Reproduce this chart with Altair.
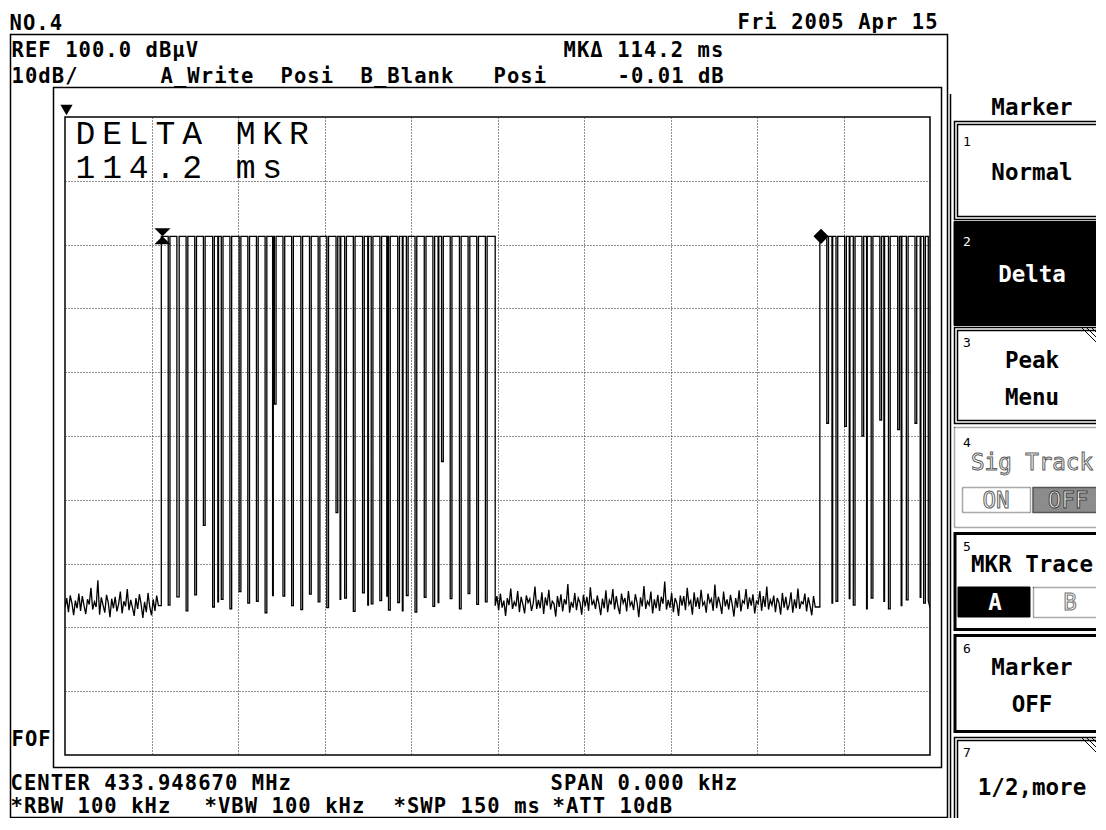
import altair as alt
import pandas as pd

sweep_ms = [0, 150]
level_db = [0, 100]
grid_ms = [15, 30, 45, 60, 75, 90, 105, 120, 135]
grid_db = [10, 20, 30, 40, 50, 60, 70, 80, 90]
pulse_top_db = 81.3
sample_ms = 0.3

noise_left_db = [23.1, 24.6, 22.4, 25.0, 23.8, 21.9, 24.2, 23.0, 25.3, 22.6,
                 24.9, 23.4, 22.1, 24.4, 23.6, 26.2, 22.8, 24.0, 23.2, 27.4,
                 22.0, 24.7, 23.5, 22.3, 25.1, 23.9, 21.6, 24.5, 23.0, 24.8,
                 22.5, 23.7, 25.6, 22.2, 24.1, 23.3, 26.0, 22.7, 24.3, 23.1,
                 21.8, 24.6, 22.9, 25.2, 23.6, 21.5, 24.0, 22.4, 25.4, 23.2,
                 21.9, 24.4, 22.6, 25.0, 23.4]

burst1_rise_ms = [16.7, 18.2, 19.8, 21.3, 22.8, 24.3, 25.9, 27.4, 28.9, 30.5,
                  32.0, 33.5, 35.0, 36.6, 38.1, 39.6, 41.2, 42.7, 44.2, 45.7,
                  47.3, 48.8, 50.3, 51.9, 53.4, 54.9, 56.4, 58.0, 59.5, 61.0,
                  62.6, 64.1, 65.6, 67.1, 68.7, 70.2, 71.7, 73.2]
burst1_fall_ms = [17.9, 19.4, 21.0, 22.5, 24.0, 25.6, 27.1, 28.6, 30.2, 31.7,
                  33.2, 34.7, 36.3, 37.8, 39.3, 40.9, 42.4, 43.9, 45.4, 47.0,
                  48.5, 50.0, 51.6, 53.1, 54.6, 56.1, 57.7, 59.2, 60.7, 62.3,
                  63.8, 65.3, 66.8, 68.4, 69.9, 71.4, 72.9, 74.6]
burst1_gap_db = [23.5, 24.8, 22.6, 25.1, 36.0, 23.2, 24.4, 22.9, 25.6, 23.8,
                 24.1, 22.3, 55.0, 24.9, 23.4, 22.8, 25.2, 24.0, 23.1, 38.0,
                 24.6, 22.5, 25.4, 23.7, 24.2, 22.7, 23.9, 25.0, 22.4, 24.7,
                 23.3, 46.0, 24.5, 22.9, 25.3, 23.6, 24.0]
# narrow full-depth dips seen as thick black bars inside the bursts
notch_ms = [26.5, 31.6, 36.0, 42.5, 47.7, 52.5, 55.8, 58.5, 64.7, 66.7, 70.2,
            133.0, 136.0, 139.0, 142.0, 145.0, 148.3]
notch_db = [24.0, 23.1, 25.0, 22.8, 24.4, 23.5, 24.9, 22.6, 23.9, 24.6, 23.2,
            23.8, 24.5, 22.9, 24.1, 23.4, 24.7]

noise_mid_db = [23.4, 24.9, 22.7, 25.3, 23.1, 24.2, 21.8, 24.6, 23.5, 26.1,
                22.9, 24.0, 23.3, 25.7, 22.4, 24.8, 23.6, 22.2, 25.0, 23.9,
                24.5, 22.6, 23.8, 26.4, 22.9, 24.3, 23.0, 25.5, 22.1, 24.7,
                23.4, 25.9, 22.8, 24.1, 23.7, 21.7, 24.9, 23.2, 25.2, 22.5,
                24.4, 23.6, 26.8, 22.3, 24.0, 23.1, 25.4, 22.7, 24.6, 23.9,
                22.0, 25.1, 23.3, 24.8, 22.6, 26.3, 23.5, 24.2, 22.9, 25.0,
                23.7, 21.9, 24.5, 23.0, 25.8, 22.4, 24.3, 23.6, 26.0, 22.8,
                24.9, 23.2, 22.1, 25.3, 23.8, 24.6, 22.5, 25.7, 23.4, 24.0,
                22.7, 25.2, 23.9, 21.6, 24.7, 23.3, 26.5, 22.9, 24.1, 23.5,
                25.6, 22.2, 24.4, 23.0, 25.1, 22.6, 24.8, 23.7, 27.2, 22.8,
                24.3, 23.1, 25.4, 22.4, 24.6, 23.8, 21.8, 25.0, 23.4, 24.9,
                22.7, 26.2, 23.6, 24.2, 22.0, 25.5, 23.2, 24.7, 22.9, 25.9,
                23.5, 24.0, 22.3, 25.3, 23.9, 24.5, 22.6, 26.7, 23.0, 24.8,
                23.7, 22.1, 25.6, 23.3, 24.4, 22.8, 25.1, 23.6, 21.7, 24.6,
                23.1, 25.8, 22.5, 24.2, 23.8, 26.0, 22.9, 24.7, 23.4, 25.2,
                22.2, 24.1, 23.7, 25.7, 22.6, 24.9, 23.2, 26.4, 22.8, 24.3,
                23.5, 25.0, 22.4, 24.6, 23.9, 22.0, 25.4, 23.1, 24.8, 22.7,
                23.6, 25.5, 22.3, 24.4, 23.0, 26.1, 22.9, 24.0, 23.7, 25.3,
                22.5, 24.7, 23.4, 21.9, 24.9, 23.2]

burst2_rise_ms = [130.9, 132.4, 134.0, 135.5, 137.0, 138.5, 140.1, 141.6,
                  143.1, 144.7, 146.2, 147.7, 149.2]
burst2_fall_ms = [132.1, 133.7, 135.2, 136.7, 138.2, 139.8, 141.3, 142.8,
                  144.4, 145.9, 147.4, 148.9, 149.7]
burst2_gap_db = [52.0, 24.1, 51.5, 23.5, 50.0, 24.6, 52.5, 22.9, 51.0, 24.3,
                 52.0, 23.8]
noise_end_db = [24.2, 23.1]

marker_ms = [16.9, 131.1]
marker_db = [81.3, 81.3]

# ---------------- trace table ----------------
pts = []
for i, v in enumerate(noise_left_db):
    pts.append((i * sample_ms, v))


def add_burst(rises, falls, gaps, after_db):
    prev = pts[-1][1]
    for k, (r, f) in enumerate(zip(rises, falls)):
        low = prev if k == 0 else gaps[k - 1]
        pts.append((r, low))
        pts.append((r, pulse_top_db))
        for n, nd in zip(notch_ms, notch_db):
            if r + 0.2 < n < f - 0.2:
                pts.append((n, pulse_top_db))
                pts.append((n, nd))
                pts.append((n + 0.12, nd))
                pts.append((n + 0.12, pulse_top_db))
        pts.append((f, pulse_top_db))
        pts.append((f, gaps[k] if k < len(gaps) else after_db))


add_burst(burst1_rise_ms, burst1_fall_ms, burst1_gap_db, noise_mid_db[0])
t0 = burst1_fall_ms[-1]
for i, v in enumerate(noise_mid_db[1:]):
    pts.append((t0 + (i + 1) * sample_ms, v))
add_burst(burst2_rise_ms, burst2_fall_ms, burst2_gap_db, noise_end_db[0])
t1 = burst2_fall_ms[-1]
for i, v in enumerate(noise_end_db[1:]):
    pts.append((min(150.0, t1 + (i + 1) * sample_ms), v))

trace = pd.DataFrame(pts, columns=["t", "db"])
trace["i"] = range(len(trace))
markers = pd.DataFrame({"t": marker_ms, "db": marker_db, "kind": ["ref", "act"]})

# ---------------- layout helpers ----------------
W, H = 865, 638          # graticule
OX, OY = 65, 117         # graticule origin on the page
MONO = "DejaVu Sans Mono"
FS = 22.5                # soft-key font
HS = 20.5                # header / footer font
PITCH = 13.4             # instrument character cell
one = alt.Data(values=[{"k": 0}])


def X(a):
    return a - OX


def Y(a):
    return a - OY


def txt(s, x, y, size=FS, color="black", align="left", weight="bold",
        font=MONO, **kw):
    return alt.Chart(one).mark_text(
        text=s, align=align, baseline="alphabetic", fontSize=size, font=font,
        fontWeight=weight, fill=color, **kw
    ).encode(x=alt.value(X(x)), y=alt.value(Y(y)))


def spaced(s, x, y, pitch=PITCH, size=HS, **kw):
    """characters on a fixed instrument cell grid, x = left edge of first cell"""
    out = []
    for i, ch in enumerate(s):
        if ch != " ":
            out.append(txt(ch, x + (i + 0.5) * pitch, y, size=size,
                           align="center", **kw))
    return out


def box(x1, y1, x2, y2, stroke="black", sw=1.0, fill="white", fo=0.0, dash=None):
    kw = dict(stroke=stroke, strokeWidth=sw, fill=fill, fillOpacity=fo)
    if dash:
        kw["strokeDash"] = dash
    return alt.Chart(one).mark_rect(**kw).encode(
        x=alt.value(X(x1)), x2=alt.value(X(x2)),
        y=alt.value(Y(y1)), y2=alt.value(Y(y2)))


def seg(x1, y1, x2, y2, sw=1.0, color="black"):
    return alt.Chart(one).mark_rule(color=color, strokeWidth=sw).encode(
        x=alt.value(X(x1)), x2=alt.value(X(x2)),
        y=alt.value(Y(y1)), y2=alt.value(Y(y2)))


xs = alt.Scale(domain=sweep_ms, nice=False, zero=False)
ys = alt.Scale(domain=level_db, nice=False, zero=False)
ax = alt.Axis(values=grid_ms, grid=True, gridDash=[1, 2], gridColor="#222",
              gridWidth=1, gridOpacity=1, domain=False, ticks=False,
              labels=False, title="")
ay = alt.Axis(values=grid_db, grid=True, gridDash=[1, 2], gridColor="#222",
              gridWidth=1, gridOpacity=1, domain=False, ticks=False,
              labels=False, title="")

line = alt.Chart(trace).mark_line(color="black", strokeWidth=1.3, clip=True).encode(
    x=alt.X("t:Q", scale=xs, axis=ax),
    y=alt.Y("db:Q", scale=ys, axis=ay),
    order="i:Q",
)

ref_mark = alt.Chart(markers).transform_filter("datum.kind == 'ref'").mark_point(
    shape="M-1,-1L1,-1L-1,1L1,1Z", size=260, filled=True, color="black", opacity=1
).encode(x=alt.X("t:Q", scale=xs), y=alt.Y("db:Q", scale=ys))
act_mark = alt.Chart(markers).transform_filter("datum.kind == 'act'").mark_point(
    shape="diamond", size=230, filled=True, color="black", opacity=1
).encode(x=alt.X("t:Q", scale=xs), y=alt.Y("db:Q", scale=ys))

layers = [line, ref_mark, act_mark]

# screen frames
layers += [
    box(10.5, 34.5, 947.5, 817.5, sw=1.5),
    box(53.5, 87.5, 941.5, 767.5, sw=1.5),
    seg(950.5, 94, 950.5, 830, sw=1.5),
]

# reference level indicator
layers.append(alt.Chart(one).mark_point(shape="triangle-down", size=150, filled=True,
                                        color="black", opacity=1).encode(
    x=alt.value(X(66.5)), y=alt.value(Y(110))))

# header / footer texts on the instrument character grid
layers += spaced("NO.4", 9, 30)
layers += spaced("Fri 2005 Apr 15", 938 - 15 * PITCH, 29)
layers += spaced("REF 100.0 dBµV", 11, 57)
layers += spaced("10dB/", 11, 83)
layers += spaced("A_Write", 160, 83)
layers += spaced("Posi", 280, 83)
layers += spaced("B_Blank", 360, 83)
layers += spaced("Posi", 493, 83)
layers += spaced("MKΔ 114.2 ms", 563, 57)
layers += spaced("-0.01 dB", 617, 83)
layers += spaced("FOF", 11, 746)
layers += spaced("CENTER 433.948670 MHz", 10, 790)
layers += spaced("SPAN 0.000 kHz", 550, 790)
layers += spaced("*RBW 100 kHz", 10, 813)
layers += spaced("*VBW 100 kHz", 204, 813)
layers += spaced("*SWP 150 ms", 393, 813)
layers += spaced("*ATT 10dB", 552, 813)
layers += spaced("DELTA MKR", 72, 144, pitch=26.7, size=33, font="Liberation Mono",
                 weight="normal")
layers += spaced("114.2 ms", 72, 178, pitch=26.7, size=33, font="Liberation Mono",
                 weight="normal")

# soft-key menu
MC = 1032
layers += [
    txt("Marker", MC, 115, align="center"),
    # 1 Normal
    box(954.5, 121.5, 1120, 219.5, sw=1.5),
    box(957.5, 124.5, 1120, 216.5, sw=1.5),
    txt("1", 963, 146, size=13, weight="normal"),
    txt("Normal", MC, 180, align="center"),
    # 2 Delta (active)
    box(954, 221.5, 1120, 325.5, sw=1, fill="black", fo=1),
    txt("2", 963, 246, size=13, color="white", weight="normal"),
    txt("Delta", MC, 282, align="center", color="white"),
    # 3 Peak Menu
    box(954.5, 327.5, 1120, 423.5, sw=1.5),
    box(957.5, 330.5, 1120, 420.5, sw=1.5),
    seg(1082, 328, 1104, 350), seg(1087, 328, 1104, 345), seg(1092, 328, 1104, 340),
    txt("3", 963, 347, size=13, weight="normal"),
    txt("Peak", MC, 368, align="center"),
    txt("Menu", MC, 405, align="center"),
    # 4 Sig Track (disabled)
    box(954.5, 427.5, 1120, 527.5, stroke="#555", sw=1.5, dash=[1, 1]),
    txt("4", 963, 447, size=13, weight="normal"),
    txt("Sig Track", MC, 470, align="center", color="white", stroke="#606060",
        strokeWidth=1, weight="normal"),
    box(962.5, 487.5, 1030.5, 512.5, stroke="#555", sw=1.5, dash=[1, 1]),
    box(1033, 487.5, 1120, 512.5, stroke="#555", sw=1.5, fill="#8c8c8c", fo=1),
    txt("ON", 996, 508, align="center", color="white", stroke="#606060",
        strokeWidth=1, weight="normal"),
    txt("OFF", 1068, 508, align="center", color="white", stroke="#404040",
        strokeWidth=1, weight="normal"),
    # 5 MKR Trace
    box(955, 533.5, 1120, 629.5, sw=3),
    txt("5", 963, 551, size=13, weight="normal"),
    txt("MKR Trace", MC, 572, align="center"),
    box(958, 587, 1030, 617, sw=1, fill="black", fo=1),
    box(1033.5, 587.5, 1120, 617.5, stroke="#555", sw=1.5, dash=[1, 1]),
    txt("A", 995, 610, align="center", color="white"),
    txt("B", 1070, 610, align="center", color="white", stroke="#707070",
        strokeWidth=1, weight="normal"),
    # 6 Marker OFF
    box(955, 635.5, 1120, 731.5, sw=3),
    txt("6", 963, 653, size=13, weight="normal"),
    txt("Marker", MC, 675, align="center"),
    txt("OFF", MC, 712, align="center"),
    # 7 1/2,more
    box(954.5, 737.5, 1120, 850, sw=1.5),
    box(957.5, 740.5, 1120, 850, sw=1.5),
    seg(1082, 738, 1104, 760), seg(1087, 738, 1104, 755), seg(1092, 738, 1104, 750),
    txt("7", 963, 757, size=13, weight="normal"),
    txt("1/2,more", MC, 795, align="center"),
]

chart = alt.layer(*layers).properties(
    width=W, height=H,
    autosize=alt.AutoSizeParams(type="none"),
    padding={"left": 57, "top": 109, "right": 166, "bottom": 63},
    background="white",
).configure_view(stroke="black", strokeWidth=1.5)

chart.save("out.html", embed_options={"renderer": "svg", "actions": False})
